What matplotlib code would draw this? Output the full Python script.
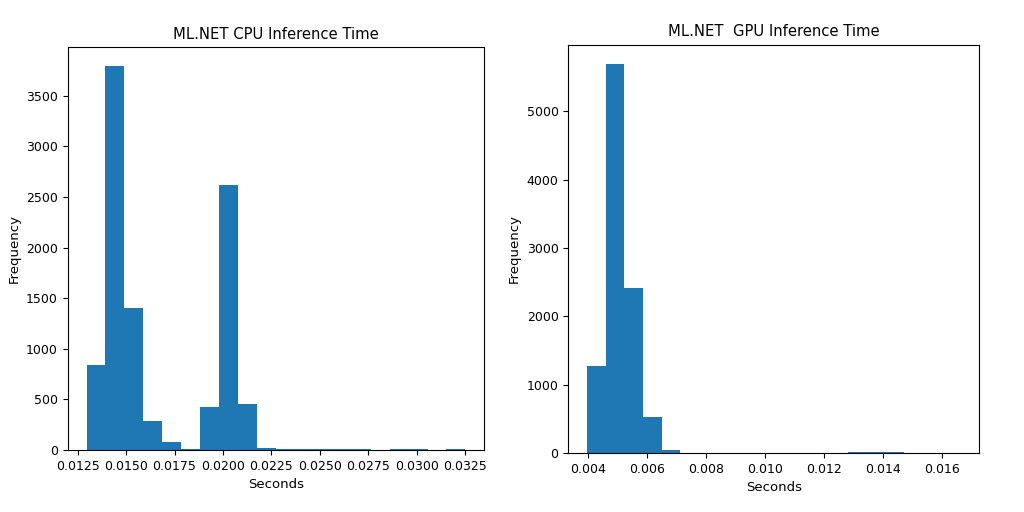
import matplotlib
matplotlib.use("Agg")
import matplotlib.pyplot as plt
import numpy as np

# CPU histogram: 20 bins
cpu_min, cpu_max = 0.01296, 0.03251
cpu_counts = [840, 3790, 1400, 290, 75, 15, 425, 2620, 450, 25,
              12, 12, 12, 12, 12, 0, 12, 12, 0, 12]

# GPU histogram: 20 bins
gpu_min, gpu_max = 0.00397, 0.01661
gpu_counts = [1275, 5690, 2410, 535, 50, 0, 0, 0, 0, 0,
              0, 0, 0, 0, 22, 22, 22, 0, 0, 0]

titles = ["ML.NET CPU Inference Time", "ML.NET  GPU Inference Time"]


def draw_hist(ax, lo, hi, counts, title):
    edges = np.linspace(lo, hi, len(counts) + 1)
    centers = (edges[:-1] + edges[1:]) / 2
    ax.hist(centers, bins=edges, weights=counts, color="#1f77b4")
    ax.set_title(title, fontsize=10.6)
    ax.set_xlabel("Seconds", fontsize=9.5)
    ax.set_ylabel("Frequency", fontsize=9.5)
    ax.tick_params(labelsize=9)


fig = plt.figure(figsize=(10.24, 5.12), dpi=100)
ax1 = fig.add_axes([0.066, 0.121, 0.407, 0.787])
ax2 = fig.add_axes([0.555, 0.115, 0.401, 0.798])

draw_hist(ax1, cpu_min, cpu_max, cpu_counts, titles[0])
draw_hist(ax2, gpu_min, gpu_max, gpu_counts, titles[1])

fig.savefig("out.png", dpi=100)
